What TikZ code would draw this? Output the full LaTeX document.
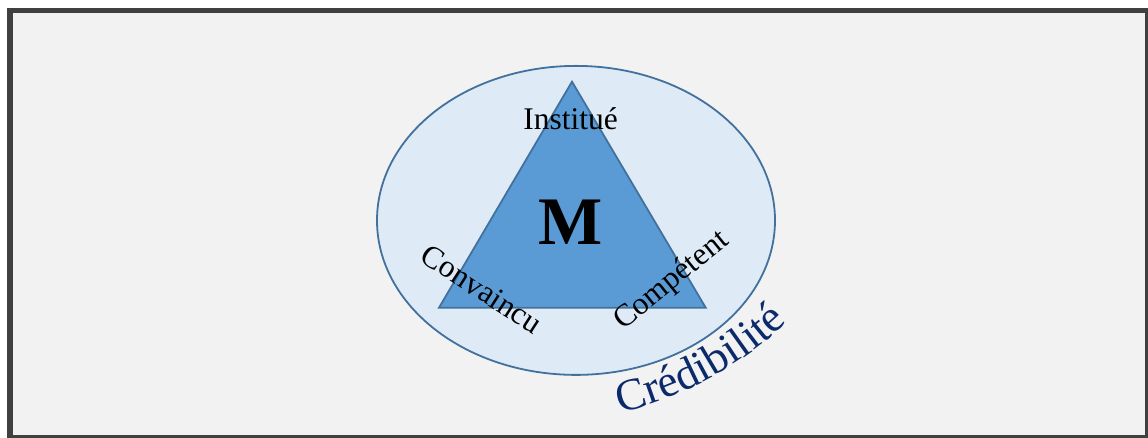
\documentclass[tikz,border=0pt]{standalone}
\usepackage{fontspec}
\setmainfont{Liberation Serif}
\usetikzlibrary{decorations.text,shapes.geometric,calc}
\definecolor{frameC}{HTML}{404040}
\definecolor{bgC}{HTML}{F2F2F2}
\definecolor{ellFill}{HTML}{DEEBF7}
\definecolor{edgeC}{HTML}{41719C}
\definecolor{triFill}{HTML}{5B9BD5}
\definecolor{credC}{HTML}{0B2A6B}
\newcommand{\credfont}{\fontsize{45}{45}\selectfont\color{credC}}
\tikzset{
  lbl/.style={font=\fontsize{31.5}{31.5}\selectfont, text=black, inner sep=0pt},
  outline/.style={draw=edgeC, line width=1.8pt}
}
\begin{document}
\begin{tikzpicture}[x=1pt,y=1pt]
\useasboundingbox (0,0) rectangle (1148,438);
\fill[white] (0,0) rectangle (1148,438);
\draw[frameC, fill=bgC, line width=5.5pt] (10,0) rectangle (1148,427.5);
\node[outline, fill=ellFill, ellipse, minimum width=398pt, minimum height=309pt, inner sep=0pt] (ell) at (576,217.6) {};
\coordinate (apex) at (572,356.3);
\coordinate (bl) at (439,130.3);
\coordinate (br) at (705.7,130.3);
\draw[outline, fill=triFill, line join=miter] (apex) -- (bl) -- (br) -- cycle;
\node[lbl, anchor=base] (inst) at (570.5,308) {Institué};
\node[anchor=base, inner sep=0pt, font=\fontsize{68}{68}\selectfont\bfseries] (m) at (570.7,193) {M};
\node[lbl, rotate=-33] (conv) at (481.7,149) {Convaincu};
\node[lbl, rotate=39] (comp) at (672,157) {Compétent};
\coordinate (arcC) at (534,384);
\path[decorate, decoration={text along path, text={|\credfont|Crédibilité}, text align=center}]
  ($(arcC)+(-81:369)$) arc[start angle=-81, end angle=-42, radius=369];
\end{tikzpicture}
\end{document}
